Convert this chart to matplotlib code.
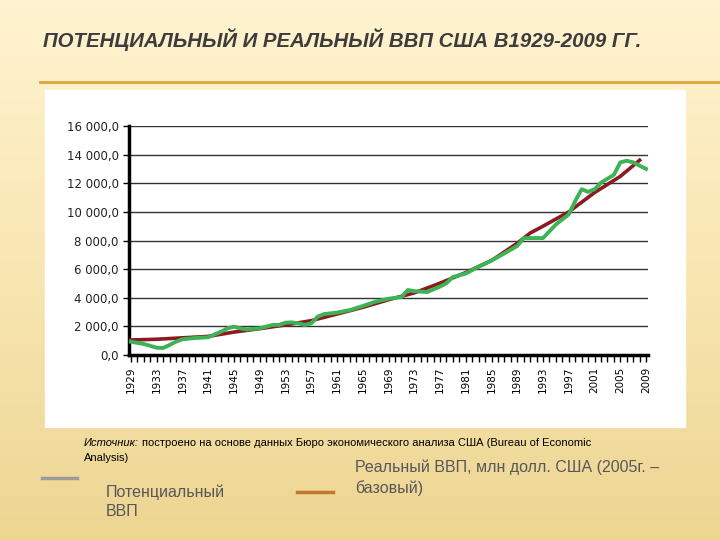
import numpy as np
import matplotlib.pyplot as plt
from matplotlib.colors import LinearSegmentedColormap

# Годы и значения (млрд долл.)
years_real = [1929, 1931, 1933, 1934, 1935, 1936, 1937, 1939, 1941, 1942, 1943, 1944,
              1945, 1946, 1947, 1949, 1950, 1951, 1952, 1953, 1954, 1955, 1956, 1957,
              1958, 1959, 1961, 1963, 1965, 1967, 1969, 1971, 1972, 1973, 1975, 1977,
              1978, 1979, 1981, 1982, 1983, 1985, 1987, 1989, 1990, 1991, 1993, 1995,
              1997, 1998, 1999, 2000, 2001, 2002, 2004, 2005, 2006, 2007, 2009]
real_gdp = [930, 770, 510, 490, 700, 930, 1100, 1190, 1240, 1440, 1630, 1860,
            1980, 1860, 1790, 1860, 1980, 2100, 2100, 2260, 2280, 2210, 2100, 2210,
            2680, 2860, 2960, 3140, 3420, 3730, 3930, 4050, 4540, 4460, 4400, 4780,
            5020, 5450, 5690, 5930, 6170, 6600, 7100, 7620, 8170, 8170, 8170, 9120,
            9830, 10760, 11580, 11400, 11580, 12040, 12590, 13460, 13570, 13460, 13000]

years_pot = [1929, 1933, 1937, 1941, 1945, 1949, 1953, 1957, 1961, 1965, 1969, 1973,
             1977, 1981, 1985, 1989, 1991, 1993, 1997, 2001, 2005, 2008]
pot_gdp = [1050, 1100, 1200, 1300, 1600, 1840, 2100, 2400, 2860, 3330, 3860, 4340,
           5020, 5760, 6600, 7810, 8520, 9000, 10000, 11350, 12480, 13610]

y_ticks = [0, 2000, 4000, 6000, 8000, 10000, 12000, 14000, 16000]
x_labels = list(range(1929, 2010, 4))

fig = plt.figure(figsize=(7.2, 5.4), dpi=100)

# фон слайда - градиент
bg = fig.add_axes([0, 0, 1, 1])
cmap = LinearSegmentedColormap.from_list('bg', ['#FFF3D0', '#F8E6B2', '#EDD592'])
grad = np.linspace(0, 1, 256).reshape(-1, 1)
bg.imshow(grad, aspect='auto', cmap=cmap, extent=[0, 1, 0, 1], origin='upper')
bg.set_xlim(0, 1)
bg.set_ylim(0, 1)
bg.axis('off')

# оранжевая линия под заголовком
bg.plot([40 / 720, 1], [1 - 82 / 540] * 2, color='#E0A43C', lw=2)
# белая подложка диаграммы
bg.add_patch(plt.Rectangle((45 / 720, 1 - 427 / 540), 640 / 720, 337 / 540,
                           color='white', zorder=2))

fig.text(43 / 720, 1 - 40 / 540, 'ПОТЕНЦИАЛЬНЫЙ И РЕАЛЬНЫЙ ВВП США В1929-2009 ГГ.',
         fontsize=14.7, fontweight='bold', style='italic', color='#3C3C3C',
         family='Liberation Sans', va='center')

ax = fig.add_axes([129 / 720, 1 - 355 / 540, 519 / 720, 229 / 540], zorder=3)
ax.set_facecolor('white')
ax.plot(years_pot, pot_gdp, color='#8B1A22', lw=2.6, zorder=3)
ax.plot(years_real, real_gdp, color='#3DB355', lw=2.8, zorder=4)

ax.set_xlim(1928.7, 2009.3)
ax.set_ylim(0, 16000)
ax.set_yticks(y_ticks)
ax.set_yticklabels([f'{v:,.1f}'.replace(',', ' ').replace('.', ',') for v in y_ticks],
                   fontsize=8.5, color='#222222')
ax.yaxis.grid(True, color='#333333', lw=1)
ax.set_xticks(range(1929, 2010), minor=True)
ax.set_xticks(x_labels)
ax.set_xticklabels([str(y) for y in x_labels], rotation=90, fontsize=7.5)
ax.tick_params(axis='x', which='both', length=5, width=1, color='black')
ax.tick_params(axis='y', length=4, width=1)
for s in ['top', 'right']:
    ax.spines[s].set_visible(False)
ax.spines['left'].set_linewidth(2.5)
ax.spines['bottom'].set_linewidth(2.5)

# подпись источника: курсивная часть, затем обычный текст сразу за ней
src1 = fig.text(84 / 720, 1 - 443 / 540, 'Источник:', fontsize=8, style='italic',
                family='Liberation Sans', va='center')
fig.canvas.draw()
bb = src1.get_window_extent(fig.canvas.get_renderer())
fig.text(bb.x1 / 720 + 3 / 720, 1 - 443 / 540,
         'построено на основе данных Бюро экономического анализа США (Bureau of Economic',
         fontsize=8, family='Liberation Sans', va='center')
fig.text(84 / 720, 1 - 458 / 540, 'Analysis)', fontsize=8, family='Liberation Sans',
         va='center')

# легенда
bg.plot([42 / 720, 77 / 720], [1 - 478 / 540] * 2, color='#9A9A9A', lw=2.5, zorder=3)
bg.plot([297 / 720, 333 / 720], [1 - 492 / 540] * 2, color='#C07830', lw=2.5, zorder=3)
fig.text(106 / 720, 1 - 502 / 540, 'Потенциальный\nВВП', fontsize=11.5, color='#585858',
         family='Liberation Sans', va='center', linespacing=1.35)
fig.text(355 / 720, 1 - 478 / 540, 'Реальный ВВП, млн долл. США (2005г. –\nбазовый)',
         fontsize=11.5, color='#585858', family='Liberation Sans', va='center',
         linespacing=1.4)

plt.savefig('out.png', dpi=100)
